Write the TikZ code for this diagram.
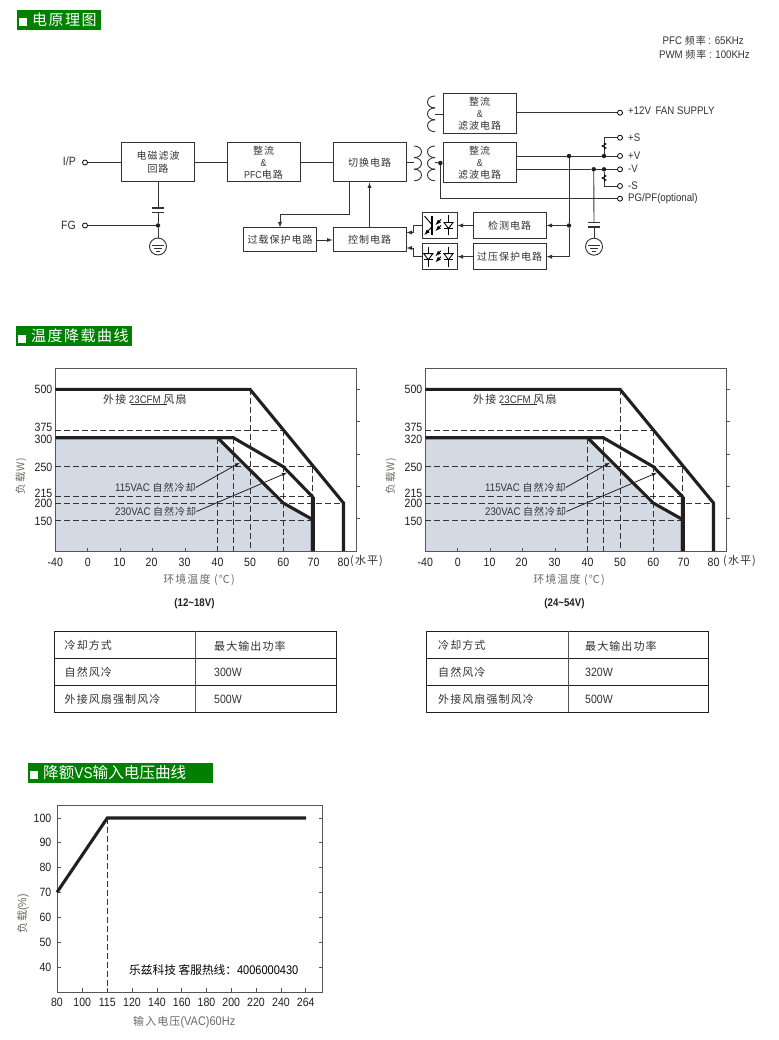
\documentclass[tikz,border=0pt]{standalone}
\usepackage{fontspec}
\setmainfont[FakeStretch=0.88]{Liberation Sans}
\newfontfamily\cjk[LetterSpace=10]{Noto Sans CJK SC}
\newfontfamily\cjkt{Noto Sans CJK SC}
\definecolor{hdrgreen}{HTML}{008000}
\definecolor{inkgray}{HTML}{333333}
\definecolor{labgray}{HTML}{6E6A66}
\definecolor{plotfill}{HTML}{D3DAE3}
\definecolor{curve}{HTML}{231F20}
\definecolor{frame}{HTML}{555555}
\newcommand{\fs}[1]{\fontsize{#1}{#1}\selectfont}
\newcommand{\zh}[1]{{\cjk\fs{10}#1}}
\tikzset{
  wire/.style={line width=0.9pt,draw=inkgray},
  blockbox/.style={draw=inkgray,line width=1pt,inner sep=0pt,align=center,text=inkgray,
    font=\fontsize{10}{12}\selectfont,minimum width=73pt},
  term/.style={circle,draw=black,line width=0.8pt,fill=white,minimum size=5pt,inner sep=0pt},
  jdot/.style={circle,fill=curve,minimum size=4.5pt,inner sep=0pt},
  gndring/.style={circle,draw=inkgray,line width=0.9pt,minimum size=17pt,inner sep=0pt},
  lab/.style={inner sep=0pt,text=inkgray,font=\fs{11}},
  ticklab/.style={inner sep=0pt,text=curve,font=\fs{12}},
  graylab/.style={inner sep=0pt,text=labgray,font=\fs{11}},
  hdr/.style={fill=hdrgreen,inner sep=0pt},
  hdrtext/.style={inner sep=0pt,text=white,anchor=west},
  hdrmark/.style={fill=white,inner sep=0pt,minimum width=8pt,minimum height=8pt},
  hcurve/.style={line width=3.1pt,draw=curve,miter limit=4},
  guide/.style={line width=0.9pt,draw=inkgray,dash pattern=on 6pt off 3pt},
}
\begin{document}
\begin{tikzpicture}[x=1pt,y=-1pt]
\path[fill=white,use as bounding box] (0,0) rectangle (778,1040);

%% section headers
\node[hdr,minimum width=84pt,minimum height=20pt] (hdra) at (59,20) {};
\node[hdrmark] (marka) at (23,22.5) {};
\node[hdrtext,font=\fs{15}\cjk] (texta) at (32,20) {电原理图};
\node[hdr,minimum width=116pt,minimum height=20pt] (hdrb) at (74,336) {};
\node[hdrmark] (markb) at (22,338.5) {};
\node[hdrtext,font=\fs{15}\cjk] (textb) at (31,336) {温度降载曲线};
\node[hdr,minimum width=185pt,minimum height=20pt] (hdrc) at (120.5,773) {};
\node[hdrmark] (markc) at (34,775) {};
\node[hdrtext,font=\fs{15.6}] (textc) at (43,773) {\cjkt 降额\rmfamily VS\cjkt 输入电压曲线};

%% frequencies
\node[lab,anchor=east] (pfcf) at (744,41) {PFC \zh{频率} : 65KHz};
\node[lab,anchor=east] (pwmf) at (750,55) {PWM \zh{频率} : 100KHz};

%% blocks
\node[blockbox,minimum height=39pt] (emi) at (158,162.5) {\cjk 电磁滤波\\[1pt]\cjk 回路};
\node[blockbox,minimum height=39pt] (pfc) at (263.5,162.5) {\cjk 整流\\\&\\PFC\cjk 电路};
\node[blockbox,minimum height=39pt] (sw) at (369.5,162.5) {\cjk 切换电路};
\node[blockbox,minimum height=24pt] (ovl) at (280,240) {\cjk 过载保护电路};
\node[blockbox,minimum height=24pt] (ctl) at (369.5,240) {\cjk 控制电路};
\node[blockbox,minimum height=40pt] (fan) at (479.7,114) {\cjk 整流\\\&\\\cjk 滤波电路};
\node[blockbox,minimum height=40pt] (rect) at (479.7,162.7) {\cjk 整流\\\&\\\cjk 滤波电路};
\node[blockbox,minimum width=35pt,minimum height=26.5pt] (opta) at (439.5,225.5) {};
\node[blockbox,minimum width=35pt,minimum height=26.5pt] (optb) at (439.5,256.7) {};
\node[blockbox,minimum height=26.5pt] (det) at (509.5,225.5) {\cjk 检测电路};
\node[blockbox,minimum height=26.5pt] (ovp) at (509.5,256.7) {\cjk 过压保护电路};

%% terminals
\node[term] (tip) at (85,162.5) {};
\node[term] (tfg) at (85,225.5) {};
\node[term] (tfan) at (620,112.7) {};
\node[term] (tps) at (620,137.7) {};
\node[term] (tpv) at (620,156) {};
\node[term] (tnv) at (620,169.3) {};
\node[term] (tns) at (620,186) {};
\node[term] (tpg) at (620,198.7) {};
\node[lab,font=\fs{12},anchor=east] (lip) at (76,161.5) {I/P};
\node[lab,font=\fs{12},anchor=east] (lfg) at (76,225) {FG};
\node[lab,anchor=west] (lfan) at (628,111) {+12V\, FAN SUPPLY};
\node[lab,anchor=west] (lps) at (628,137.5) {+S};
\node[lab,anchor=west] (lpv) at (628,155.5) {+V};
\node[lab,anchor=west] (lnv) at (628,169) {-V};
\node[lab,anchor=west] (lns) at (628,185.5) {-S};
\node[lab,anchor=west] (lpg) at (628,199) {PG/PF(optional)};

%% junctions
\node[jdot] (dfg) at (158,225.5) {};
\node[jdot] (dsec) at (440.3,163) {};
\node[jdot] (dva) at (569,156) {};
\node[jdot] (dvb) at (604,156) {};
\node[jdot] (dna) at (593.7,169.3) {};
\node[jdot] (dnb) at (604,169.3) {};
\node[jdot] (dvc) at (569,225.5) {};
\node[gndring] (gnda) at (158,246.5) {};
\node[gndring] (gndb) at (594,246.7) {};
\coordinate (capa) at (158,208);
\coordinate (capb) at (158,212);
\coordinate (capc) at (594,222.7);
\coordinate (capd) at (594,227.3);
\coordinate (pria) at (414,162.5);
\coordinate (seca) at (435,162.5);
\coordinate (fana) at (435,114);

%% connectors
\draw[wire] (tip) -- (emi);
\draw[wire] (emi) -- (pfc);
\draw[wire] (pfc) -- (sw);
\draw[wire] (emi) -- (capa);
\draw[wire] (capb) -- (dfg);
\draw[wire] (dfg) -- (gnda);
\draw[wire] (tfg) -- (dfg);
\draw[wire,-latex] ([xshift=-20pt]sw.south) -- ++(0,31.5) -| (ovl.north);
\draw[wire,-latex] (ctl) -- (sw);
\draw[wire,-latex] (ovl) -- (ctl);
\draw[wire] (sw) -- (pria);
\draw[wire] (seca) -- (dsec);
\draw[wire] (dsec) -- (rect);
\draw[wire] (fana) -- (fan);
\draw[wire] (dsec) |- (tpg);
\draw[wire] (fan.east |- tfan) -- (tfan);
\draw[wire] (rect.east |- tpv) -- (dva);
\draw[wire] (dva) -- (dvb);
\draw[wire] (dvb) -- (tpv);
\draw[wire] (rect.east |- tnv) -- (dna);
\draw[wire] (dna) -- (dnb);
\draw[wire] (dnb) -- (tnv);
\draw[wire] (dvb) |- (tps);
\draw[wire] (dnb) |- (tns);
\draw[wire] (dva) -- (dvc);
\draw[wire,-latex] (dvc) -- (det);
\draw[wire,-latex] (dvc) |- (ovp);
\draw[wire,-latex] (det) -- (opta);
\draw[wire,-latex] (ovp) -- (optb);
\draw[wire,-latex] (opta.west) -- ++(-8,0) |- ([yshift=7.5pt]ctl.east);
\draw[wire,-latex] (optb.west) -- ++(-8,0) |- ([yshift=-8pt]ctl.east);
\draw[wire] (dna) -- (capc);
\draw[wire] (capd) -- (gndb);

%% caps and earth bars
\foreach \gx/\gy in {158/208,594/222.7}{
\draw[line width=1.1pt,draw=inkgray] (\gx-6,\gy) --++ (12,0);
\draw[line width=1.1pt,draw=inkgray] (\gx-6,\gy+4.3) --++ (12,0);
}
\foreach \gx/\gy in {158/246.5,594/246.7}{
\draw[line width=0.9pt,draw=inkgray] (\gx-6,\gy-1) --++ (12,0);
\draw[line width=0.9pt,draw=inkgray] (\gx-4,\gy+2) --++ (8,0);
\draw[line width=0.9pt,draw=inkgray] (\gx-2,\gy+4.5) --++ (4,0);
}

%% coils
\foreach \cy in {146,157.6,169.2}{
\draw[wire] (414,\cy) .. controls (424,\cy) and (424,\cy+11.6) .. (414,\cy+11.6);
\draw[wire] (435,\cy) .. controls (425,\cy) and (425,\cy+11.6) .. (435,\cy+11.6);
}
\foreach \cy in {96,107.9,119.8}{
\draw[wire] (435,\cy) .. controls (425,\cy) and (425,\cy+11.9) .. (435,\cy+11.9);
}

%% sense squiggles
\foreach \sy in {146,178}{
\draw[line width=0.8pt] (604,\sy-3) -- (606,\sy-2) -- (602,\sy) -- (606,\sy+2) -- (604,\sy+3);
}

%% opto couplers
\foreach \oy in {225.5,256.7}{
\draw[line width=0.9pt] (448.5,\oy-10) --++ (0,20);
\draw[line width=0.9pt,fill=white] (444,\oy-3) -- (453,\oy-3) -- (448.5,\oy+3) -- cycle;
\draw[line width=0.9pt] (444,\oy+3) --++ (9,0);
\draw[line width=0.9pt,-latex] (441,\oy-6) --++ (-5.5,5.5);
\draw[line width=0.9pt,-latex] (441,\oy) --++ (-5.5,5.5);
}
\draw[line width=1.6pt] (431.7,216) --++ (0,19);
\draw[line width=0.9pt] (424.5,216) -- (431.7,224.5);
\draw[line width=0.9pt,latex-] (424.5,235) -- (431.7,227);
\draw[line width=0.9pt] (428.3,246.7) --++ (0,20);
\draw[line width=0.9pt,fill=white] (423.8,253.7) -- (432.8,253.7) -- (428.3,259.7) -- cycle;
\draw[line width=0.9pt] (423.8,259.7) --++ (9,0);

%% derating charts
\foreach \dx/\pw/\volt/\hz in {0/300/12\textasciitilde18V/350,370/320/24\textasciitilde54V/353}{
\begin{scope}[shift={(\dx,0)}]
\fill[plotfill] (55.3,437.7) -- (217.5,437.7) -- (283.3,503) -- (312.5,520) -- (312.5,551) -- (55.3,551) -- cycle;
\draw[line width=1pt,frame] (55.3,368.3) rectangle (356.7,551);
\foreach \ry in {389.3,421,454,486,518.7}{
\draw[line width=0.8pt,frame] (356.7,\ry) --++ (3.5,0);
}
\foreach \tx in {87.7,120,152.5,185}{
\draw[line width=0.8pt,frame] (\tx,551) --++ (0,-3);
}
%dashes
\draw[guide] (55.3,430.3) -- (283.3,430.3);
\draw[guide] (55.3,466.7) -- (312.5,466.7);
\draw[guide] (55.3,496.7) -- (312.5,496.7);
\draw[guide] (55.3,503) -- (343.5,503);
\draw[guide] (55.3,520) -- (312.5,520);
\draw[guide] (217.5,438) -- (217.5,551);
\draw[guide] (233.3,438) -- (233.3,551);
\draw[guide] (250,389.3) -- (250,551);
\draw[guide] (283.3,430.3) -- (283.3,551);
\draw[guide] (312.5,466.7) -- (312.5,497);
%curves
\draw[hcurve] (55.3,389.3) -- (250,389.3) -- (343.5,503) -- (343.5,551);
\draw[hcurve] (55.3,437.7) -- (233.3,437.7) -- (283.3,466.7) -- (312.5,496.7) -- (312.5,551);
\draw[hcurve] (217.5,437.7) -- (283.3,503) -- (312.5,519.5) -- (312.5,551);
\draw[line width=4pt,curve] (312.5,497) -- (312.5,551);
%labels
\foreach \lbl/\ly in {500/389,375/427,\pw/439,250/467,215/493,200/503,150/521}{
\node[ticklab,anchor=east] (ylab\lbl) at (52.5,\ly) {\lbl};
}
\foreach \lbl/\lx in {-40/55.3,0/87.7,10/119.5,20/151.5,30/184.5,40/217.5,50/250,60/283.3,70/313.5,80/343.5}{
\node[ticklab] (xlab\lbl) at (\lx,562) {\lbl};
}
\node[graylab,anchor=west,text=inkgray,font=\fs{11}\cjk] (hplab) at (\hz,561) {(水平)};
\node[graylab,font=\fs{11}\cjk] (xname) at (199,580) {环境温度 (℃)};
\node[graylab,rotate=90,font=\fs{10.5}\cjk] (yname) at (21,476) {负载W)};
\node[ticklab,font=\fs{11}\bfseries] (vlab) at (194.5,604) {(\volt)};
\node[lab,anchor=west] (fanlab) at (103,399) {{\cjk\fs{11}外接} 23CFM {\cjk\fs{11}风扇}};
\draw[line width=0.8pt,inkgray] (131,404.5) -- (167,404.5);
\node[lab,anchor=west] (laca) at (115,487.5) {115VAC \zh{自然冷却}};
\node[lab,anchor=west] (lacb) at (115,511.5) {230VAC \zh{自然冷却}};
\coordinate (arra) at (240,462.7);
\coordinate (arrb) at (287,472.7);
\draw[line width=0.8pt,curve,-latex] (laca.east) -- (arra);
\draw[line width=0.8pt,curve,-latex] (lacb.east) -- (arrb);
\end{scope}
}

%% cooling tables
\foreach \ta/\tb/\tc/\tp/\tq/\pw in {54.6/195.5/336.5/64.5/214/300,426.8/568.2/708.7/438/585/320}{
\draw[line width=1pt,curve] (\ta,631.3) rectangle (\tc,712.3);
\draw[line width=1pt,curve] (\ta,658.3) -- (\tc,658.3);
\draw[line width=1pt,curve] (\ta,685.3) -- (\tc,685.3);
\draw[line width=1pt,frame] (\tb,631.3) -- (\tb,712.3);
\node[lab,anchor=west,font=\fs{11}\cjk] (cool\pw) at (\tp,645) {冷却方式};
\node[lab,anchor=west,font=\fs{11}\cjk] (cmax\pw) at (\tq,646) {最大输出功率};
\node[lab,anchor=west,font=\fs{11}\cjk] (nat\pw) at (\tp,672) {自然风冷};
\node[lab,anchor=west,font=\fs{12}] (wnat\pw) at (\tq,672.5) {\pw W};
\node[lab,anchor=west,font=\fs{11}\cjk] (frc\pw) at (\tp,699.5) {外接风扇强制风冷};
\node[lab,anchor=west,font=\fs{12}] (wfrc\pw) at (\tq,699.5) {500W};
}

%% input voltage chart
\draw[line width=1pt,frame] (57,805.7) rectangle (322.7,992);
\foreach \lbl/\vy in {100/818,90/842.7,80/867.3,70/892.3,60/917,50/942,40/967}{
\draw[line width=0.8pt,frame] (57,\vy) --++ (4,0);
\draw[line width=0.8pt,frame] (322.7,\vy) --++ (-4,0);
\node[ticklab,anchor=east] (vlab\lbl) at (51.5,\vy) {\lbl};
}
\foreach \lbl/\vx in {80/57,100/82.3,115/107.3,120/132,140/157,160/181.7,180/206.5,200/231.3,220/256,240/281,264/305.7}{
\draw[line width=0.8pt,frame] (\vx,992) --++ (0,-4);
\node[ticklab] (ulab\lbl) at (\vx,1002) {\lbl};
}
\draw[line width=0.9pt,inkgray,dash pattern=on 6pt off 3pt] (107.3,818) -- (107.3,992);
\draw[hcurve] (57,892.3) -- (107.3,818) -- (306,818);
\node[graylab,anchor=west,font=\fs{12.5}] (uname) at (133,1022) {{\cjk\fs{11}输入电压}(VAC)60Hz};
\node[graylab,rotate=90,font=\fs{12}] (pname) at (23,914) {{\cjk\fs{11}负载}(\%)};
\node[inner sep=0pt,anchor=west,text=black,font=\fs{11.7}] (hotline) at (129,970) {\cjkt 乐兹科技 客服热线：\rmfamily\fs{12.5}4006000430};
\end{tikzpicture}
\end{document}
